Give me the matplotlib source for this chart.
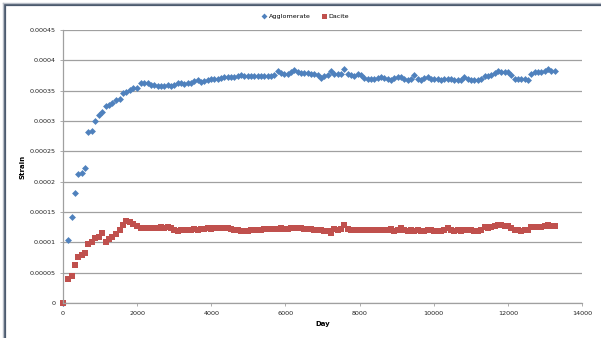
import matplotlib
matplotlib.use("Agg")
import matplotlib.pyplot as plt
from matplotlib.lines import Line2D

# ----------------------------------------------------------------------------
# Strain vs time for the two rock types
# ----------------------------------------------------------------------------

day = [0, 140, 230, 320, 410, 500, 600, 680, 770, 870, 970, 1060, 1150, 1240,
       1330, 1430, 1530, 1610, 1690, 1800, 1900, 2000,
       2100, 2190, 2280, 2370, 2460, 2550, 2640, 2730, 2820, 2910,
       3000, 3090, 3180, 3270, 3360, 3450, 3540, 3630, 3720, 3810,
       3900, 3990, 4080, 4170, 4260, 4350, 4440, 4530, 4620, 4710,
       4800, 4890, 4980, 5070, 5160, 5250, 5340, 5430, 5520, 5610,
       5700, 5790, 5880, 5970, 6060, 6150, 6240, 6330, 6420, 6510,
       6600, 6690, 6780, 6870, 6960, 7050, 7140, 7230, 7320, 7410,
       7500, 7590, 7680, 7770, 7860, 7950, 8040, 8130, 8220, 8310,
       8400, 8490, 8580, 8670, 8760, 8850, 8940, 9030, 9120, 9210,
       9300, 9390, 9480, 9570, 9660, 9750, 9840, 9930, 10020, 10110,
       10200, 10290, 10380, 10470, 10560, 10650, 10740, 10830, 10920, 11010,
       11100, 11190, 11280, 11370, 11460, 11550, 11640, 11730, 11820, 11910,
       12000, 12090, 12180, 12270, 12360, 12450, 12540, 12630, 12720, 12810,
       12900, 12990, 13080, 13170, 13260]

# strain values in units of 1e-4
agglomerate = [0.0, 1.04, 1.41, 1.82, 2.13, 2.15, 2.23, 2.82, 2.84, 3.00, 3.10, 3.15, 3.25, 3.27,
               3.30, 3.35, 3.37, 3.46, 3.47, 3.51, 3.55, 3.54,
               3.62, 3.63, 3.63, 3.60, 3.59, 3.58, 3.58, 3.58, 3.59, 3.58,
               3.60, 3.62, 3.62, 3.61, 3.62, 3.63, 3.66, 3.68, 3.64, 3.66,
               3.68, 3.69, 3.70, 3.70, 3.71, 3.72, 3.73, 3.73, 3.72, 3.74,
               3.76, 3.75, 3.75, 3.75, 3.74, 3.75, 3.75, 3.75, 3.75, 3.75,
               3.76, 3.82, 3.79, 3.78, 3.78, 3.80, 3.84, 3.80, 3.79, 3.79,
               3.79, 3.78, 3.77, 3.76, 3.71, 3.74, 3.76, 3.83, 3.78, 3.77,
               3.77, 3.85, 3.78, 3.76, 3.75, 3.77, 3.76, 3.71, 3.69, 3.69,
               3.70, 3.71, 3.72, 3.71, 3.69, 3.68, 3.71, 3.73, 3.72, 3.69,
               3.68, 3.69, 3.76, 3.69, 3.67, 3.71, 3.73, 3.70, 3.69, 3.69,
               3.68, 3.69, 3.69, 3.70, 3.68, 3.67, 3.68, 3.73, 3.69, 3.67,
               3.67, 3.67, 3.70, 3.74, 3.75, 3.76, 3.79, 3.82, 3.80, 3.81,
               3.80, 3.76, 3.70, 3.69, 3.69, 3.70, 3.68, 3.78, 3.80, 3.80,
               3.80, 3.82, 3.86, 3.82, 3.82]

dacite = [0.0, 0.395, 0.445, 0.626, 0.76, 0.79, 0.83, 0.97, 1.01, 1.065, 1.09, 1.16, 1.01, 1.055,
          1.09, 1.14, 1.20, 1.285, 1.35, 1.335, 1.31, 1.27,
          1.24, 1.23, 1.23, 1.24, 1.24, 1.24, 1.25, 1.24, 1.25, 1.23,
          1.20, 1.19, 1.20, 1.20, 1.20, 1.21, 1.22, 1.21, 1.22, 1.22,
          1.23, 1.22, 1.23, 1.23, 1.24, 1.23, 1.23, 1.22, 1.21, 1.20,
          1.19, 1.19, 1.19, 1.20, 1.21, 1.21, 1.21, 1.22, 1.22, 1.22,
          1.22, 1.22, 1.24, 1.22, 1.22, 1.23, 1.23, 1.24, 1.23, 1.22,
          1.22, 1.22, 1.21, 1.21, 1.21, 1.19, 1.18, 1.16, 1.22, 1.21,
          1.22, 1.28, 1.22, 1.21, 1.21, 1.20, 1.20, 1.20, 1.20, 1.21,
          1.20, 1.21, 1.20, 1.21, 1.21, 1.22, 1.19, 1.20, 1.23, 1.20,
          1.19, 1.20, 1.19, 1.20, 1.19, 1.19, 1.20, 1.20, 1.19, 1.18,
          1.19, 1.20, 1.24, 1.20, 1.19, 1.20, 1.19, 1.20, 1.20, 1.21,
          1.19, 1.19, 1.20, 1.25, 1.24, 1.26, 1.27, 1.28, 1.29, 1.27,
          1.27, 1.24, 1.21, 1.20, 1.19, 1.20, 1.20, 1.25, 1.26, 1.25,
          1.26, 1.27, 1.28, 1.27, 1.27]

ytick_vals = [0, 0.00005, 0.0001, 0.00015, 0.0002, 0.00025, 0.0003, 0.00035, 0.0004, 0.00045]
ytick_labels = ["0", "0.00005", "0.0001", "0.00015", "0.0002", "0.00025",
                "0.0003", "0.00035", "0.0004", "0.00045"]
xtick_vals = [0, 2000, 4000, 6000, 8000, 10000, 12000, 14000]

blue = "#4f81bd"
red = "#c0504d"
grid_col = "#a0a0a0"

agg = [v * 1e-4 for v in agglomerate]
dac = [v * 1e-4 for v in dacite]

fig = plt.figure(figsize=(6.01, 3.38), dpi=100)
ax = fig.add_axes([63 / 601, 1 - 303 / 338, (582 - 63) / 601, (303 - 30) / 338])

ax.plot(day, agg, linestyle="none", marker="D", markersize=3.5, color=blue,
        markeredgewidth=0, clip_on=False, label="Agglomerate")
ax.plot(day, dac, linestyle="none", marker="s", markersize=4.7, color=red,
        markeredgewidth=0, clip_on=False, label="Dacite")

ax.set_xlim(0, 14000)
ax.set_ylim(0, 0.00045)
ax.set_xticks(xtick_vals)
ax.set_xticklabels([str(v) for v in xtick_vals])
ax.set_yticks(ytick_vals)
ax.set_yticklabels(ytick_labels)

ax.yaxis.grid(True, color=grid_col, linewidth=0.9)
ax.set_axisbelow(True)
for side in ["top", "right"]:
    ax.spines[side].set_visible(False)
for side in ["left", "bottom"]:
    ax.spines[side].set_color(grid_col)
    ax.spines[side].set_linewidth(0.9)

ax.tick_params(axis="both", labelsize=4.6, colors="#222222", length=2.5,
               width=0.6, pad=3)
ax.tick_params(axis="both", color=grid_col)

ax.set_xlabel("Day", fontsize=5, fontweight="bold", labelpad=4)
ax.set_ylabel("Strain", fontsize=5, fontweight="bold", labelpad=3)

handles = [Line2D([], [], linestyle="none", marker="D", markersize=3.0, color=blue,
                  markeredgewidth=0),
           Line2D([], [], linestyle="none", marker="s", markersize=3.6, color=red,
                  markeredgewidth=0)]
fig.legend(handles, ["Agglomerate", "Dacite"], loc="center",
           bbox_to_anchor=(305 / 601, 1 - 16 / 338), ncol=2, frameon=False,
           fontsize=4.6, handletextpad=0.2, columnspacing=1.5, handlelength=1.0)

# window-like frame along the top and left edges
fig.add_artist(Line2D([5 / 601, 5 / 601], [0, 1 - 5 / 338], transform=fig.transFigure,
                      color="#4b5a6e", linewidth=1.6))
fig.add_artist(Line2D([5 / 601, 1], [1 - 5 / 338, 1 - 5 / 338], transform=fig.transFigure,
                      color="#4b5a6e", linewidth=1.6))
fig.add_artist(Line2D([3 / 601, 3 / 601], [0, 1 - 3 / 338], transform=fig.transFigure,
                      color="#b8bec8", linewidth=1.0))
fig.add_artist(Line2D([3 / 601, 1], [1 - 3 / 338, 1 - 3 / 338], transform=fig.transFigure,
                      color="#b8bec8", linewidth=1.0))

fig.savefig("out.png", dpi=100)
